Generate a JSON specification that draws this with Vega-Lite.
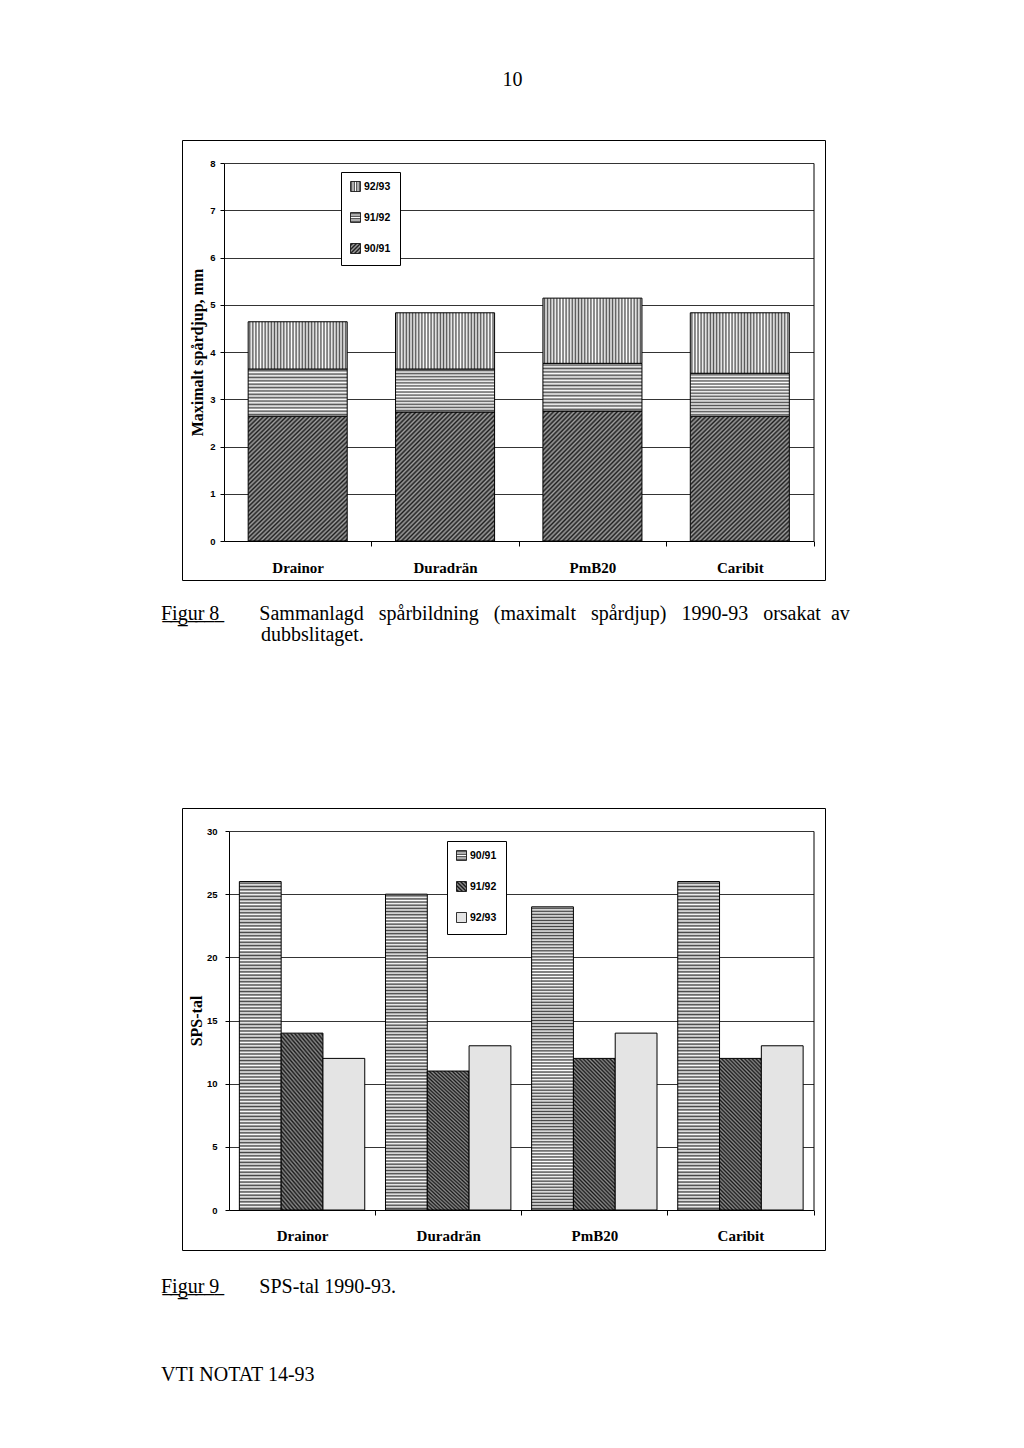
{
  "$schema": "https://vega.github.io/schema/vega-lite/v6.json",
  "background": "white",
  "padding": {"left": 160, "top": 69, "right": 10, "bottom": 10},
  "title": {"text": "10", "anchor": "middle", "frame": "group", "offset": 50, "dx": 9, "fontSize": 20, "font": "Liberation Serif", "fontWeight": "normal", "color": "#000"},
  "spacing": 228,
  "bounds": "flush",
  "resolve": {"scale": {"stroke": "independent"}, "legend": {"stroke": "independent"}},
  "config": {
    "view": {"stroke": "#000", "strokeWidth": 1},
    "axis": {"domainColor": "#000", "tickColor": "#000", "gridColor": "#000", "gridOpacity": 1, "gridWidth": 0.8, "labelColor": "#000", "titleColor": "#000", "domainWidth": 1, "tickWidth": 1, "labelFont": "Liberation Sans", "labelFontWeight": "bold", "labelFontSize": 9.5, "titleFont": "Liberation Serif", "titleFontWeight": "bold", "titleFontSize": 16},
    "title": {"font": "Liberation Serif", "fontWeight": "normal", "fontSize": 20, "color": "#000"}
  },
  "vconcat": [
    {
      "width": 643,
      "height": 440,
      "title": {"text": ["F̲i̲g̲u̲r̲ ̲8̲\u00a0\u00a0\u00a0\u00a0\u00a0\u00a0\u00a0\u00a0Sammanlagd \u00a0\u00a0spårbildning \u00a0\u00a0(maximalt \u00a0\u00a0spårdjup) \u00a0\u00a01990-93 \u00a0\u00a0orsakat \u00a0av", "\u200b\u00a0\u00a0\u00a0\u00a0\u00a0\u00a0\u00a0\u00a0\u00a0\u00a0\u00a0\u00a0\u00a0\u00a0\u00a0\u00a0\u00a0\u00a0\u00a0\u00a0dubbslitaget."], "orient": "bottom", "anchor": "start", "frame": "group", "dx": -21, "offset": 24, "lineHeight": 21},
      "data": {"values": [
        {"belaggning": "Drainor", "sasong": "90/91", "spardjup": 2.64},
        {"belaggning": "Drainor", "sasong": "91/92", "spardjup": 1.00},
        {"belaggning": "Drainor", "sasong": "92/93", "spardjup": 1.00},
        {"belaggning": "Duradrän", "sasong": "90/91", "spardjup": 2.73},
        {"belaggning": "Duradrän", "sasong": "91/92", "spardjup": 0.91},
        {"belaggning": "Duradrän", "sasong": "92/93", "spardjup": 1.19},
        {"belaggning": "PmB20", "sasong": "90/91", "spardjup": 2.75},
        {"belaggning": "PmB20", "sasong": "91/92", "spardjup": 1.01},
        {"belaggning": "PmB20", "sasong": "92/93", "spardjup": 1.38},
        {"belaggning": "Caribit", "sasong": "90/91", "spardjup": 2.64},
        {"belaggning": "Caribit", "sasong": "91/92", "spardjup": 0.91},
        {"belaggning": "Caribit", "sasong": "92/93", "spardjup": 1.28}
      ]},
      "resolve": {"axis": {"y": "independent"}},
      "layer": [
        {
          "mark": {"type": "bar", "strokeWidth": 1},
          "encoding": {
            "x": {"field": "belaggning", "type": "nominal", "sort": ["Drainor", "Duradrän", "PmB20", "Caribit"],
              "scale": {"range": [42, 631.5], "paddingInner": 0.328, "paddingOuter": 0.164},
              "axis": {"title": null, "labelAngle": 0, "labelFont": "Liberation Serif", "labelFontSize": 15, "labelFontWeight": "bold", "offset": -39, "bandPosition": 1, "tickOffset": 24.2, "labelOffset": -24.2, "tickSize": 5, "labelPadding": 14, "grid": false}},
            "y": {"field": "spardjup", "type": "quantitative",
              "scale": {"domain": [0, 8], "nice": false, "zero": true, "range": [401, 23]},
              "axis": {"title": "Maximalt spårdjup, mm", "offset": -42, "values": [0, 1, 2, 3, 4, 5, 6, 7, 8], "tickSize": 4, "labelPadding": 5, "grid": true, "titlePadding": 4}},
            "fill": {"condition": [
              {"test": "datum.sasong === '92/93'", "value": {"gradient": "linear", "x1": 0, "y1": 0, "x2": 1, "y2": 0, "stops": [
                  {"offset": 0, "color": "#fff"}, {"offset": 0.0156, "color": "#555"}, {"offset": 0.0313, "color": "#fff"}, {"offset": 0.0469, "color": "#555"},
                  {"offset": 0.0625, "color": "#fff"}, {"offset": 0.0781, "color": "#555"}, {"offset": 0.0938, "color": "#fff"}, {"offset": 0.1094, "color": "#555"},
                  {"offset": 0.125, "color": "#fff"}, {"offset": 0.1406, "color": "#555"}, {"offset": 0.1563, "color": "#fff"}, {"offset": 0.1719, "color": "#555"},
                  {"offset": 0.1875, "color": "#fff"}, {"offset": 0.2031, "color": "#555"}, {"offset": 0.2188, "color": "#fff"}, {"offset": 0.2344, "color": "#555"},
                  {"offset": 0.25, "color": "#fff"}, {"offset": 0.2656, "color": "#555"}, {"offset": 0.2813, "color": "#fff"}, {"offset": 0.2969, "color": "#555"},
                  {"offset": 0.3125, "color": "#fff"}, {"offset": 0.3281, "color": "#555"}, {"offset": 0.3438, "color": "#fff"}, {"offset": 0.3594, "color": "#555"},
                  {"offset": 0.375, "color": "#fff"}, {"offset": 0.3906, "color": "#555"}, {"offset": 0.4063, "color": "#fff"}, {"offset": 0.4219, "color": "#555"},
                  {"offset": 0.4375, "color": "#fff"}, {"offset": 0.4531, "color": "#555"}, {"offset": 0.4688, "color": "#fff"}, {"offset": 0.4844, "color": "#555"},
                  {"offset": 0.5, "color": "#fff"}, {"offset": 0.5156, "color": "#555"}, {"offset": 0.5313, "color": "#fff"}, {"offset": 0.5469, "color": "#555"},
                  {"offset": 0.5625, "color": "#fff"}, {"offset": 0.5781, "color": "#555"}, {"offset": 0.5938, "color": "#fff"}, {"offset": 0.6094, "color": "#555"},
                  {"offset": 0.625, "color": "#fff"}, {"offset": 0.6406, "color": "#555"}, {"offset": 0.6563, "color": "#fff"}, {"offset": 0.6719, "color": "#555"},
                  {"offset": 0.6875, "color": "#fff"}, {"offset": 0.7031, "color": "#555"}, {"offset": 0.7188, "color": "#fff"}, {"offset": 0.7344, "color": "#555"},
                  {"offset": 0.75, "color": "#fff"}, {"offset": 0.7656, "color": "#555"}, {"offset": 0.7813, "color": "#fff"}, {"offset": 0.7969, "color": "#555"},
                  {"offset": 0.8125, "color": "#fff"}, {"offset": 0.8281, "color": "#555"}, {"offset": 0.8438, "color": "#fff"}, {"offset": 0.8594, "color": "#555"},
                  {"offset": 0.875, "color": "#fff"}, {"offset": 0.8906, "color": "#555"}, {"offset": 0.9063, "color": "#fff"}, {"offset": 0.9219, "color": "#555"},
                  {"offset": 0.9375, "color": "#fff"}, {"offset": 0.9531, "color": "#555"}, {"offset": 0.9688, "color": "#fff"}, {"offset": 0.9844, "color": "#555"},
                  {"offset": 1, "color": "#fff"}
                ]}},
              {"test": "datum.sasong === '91/92'", "value": {"gradient": "linear", "x1": 0, "y1": 0, "x2": 0, "y2": 1, "stops": [
                  {"offset": 0, "color": "#fff"}, {"offset": 0.0357, "color": "#555"}, {"offset": 0.0714, "color": "#fff"}, {"offset": 0.1071, "color": "#555"},
                  {"offset": 0.1429, "color": "#fff"}, {"offset": 0.1786, "color": "#555"}, {"offset": 0.2143, "color": "#fff"}, {"offset": 0.25, "color": "#555"},
                  {"offset": 0.2857, "color": "#fff"}, {"offset": 0.3214, "color": "#555"}, {"offset": 0.3571, "color": "#fff"}, {"offset": 0.3929, "color": "#555"},
                  {"offset": 0.4286, "color": "#fff"}, {"offset": 0.4643, "color": "#555"}, {"offset": 0.5, "color": "#fff"}, {"offset": 0.5357, "color": "#555"},
                  {"offset": 0.5714, "color": "#fff"}, {"offset": 0.6071, "color": "#555"}, {"offset": 0.6429, "color": "#fff"}, {"offset": 0.6786, "color": "#555"},
                  {"offset": 0.7143, "color": "#fff"}, {"offset": 0.75, "color": "#555"}, {"offset": 0.7857, "color": "#fff"}, {"offset": 0.8214, "color": "#555"},
                  {"offset": 0.8571, "color": "#fff"}, {"offset": 0.8929, "color": "#555"}, {"offset": 0.9286, "color": "#fff"}, {"offset": 0.9643, "color": "#555"},
                  {"offset": 1, "color": "#fff"}
                ]}}
            ], "value": {"gradient": "linear", "x1": 0, "y1": 0, "x2": 0.858, "y2": 1.11, "stops": [
                  {"offset":0,"color":"#a0a0a0"},{"offset":0.01,"color":"#1e1e1e"},{"offset":0.02,"color":"#a0a0a0"},{"offset":0.03,"color":"#1e1e1e"},{"offset":0.04,"color":"#a0a0a0"},{"offset":0.05,"color":"#1e1e1e"},{"offset":0.06,"color":"#a0a0a0"},{"offset":0.07,"color":"#1e1e1e"},{"offset":0.08,"color":"#a0a0a0"},{"offset":0.09,"color":"#1e1e1e"},
                  {"offset":0.1,"color":"#a0a0a0"},{"offset":0.11,"color":"#1e1e1e"},{"offset":0.12,"color":"#a0a0a0"},{"offset":0.13,"color":"#1e1e1e"},{"offset":0.14,"color":"#a0a0a0"},{"offset":0.15,"color":"#1e1e1e"},{"offset":0.16,"color":"#a0a0a0"},{"offset":0.17,"color":"#1e1e1e"},{"offset":0.18,"color":"#a0a0a0"},{"offset":0.19,"color":"#1e1e1e"},
                  {"offset":0.2,"color":"#a0a0a0"},{"offset":0.21,"color":"#1e1e1e"},{"offset":0.22,"color":"#a0a0a0"},{"offset":0.23,"color":"#1e1e1e"},{"offset":0.24,"color":"#a0a0a0"},{"offset":0.25,"color":"#1e1e1e"},{"offset":0.26,"color":"#a0a0a0"},{"offset":0.27,"color":"#1e1e1e"},{"offset":0.28,"color":"#a0a0a0"},{"offset":0.29,"color":"#1e1e1e"},
                  {"offset":0.3,"color":"#a0a0a0"},{"offset":0.31,"color":"#1e1e1e"},{"offset":0.32,"color":"#a0a0a0"},{"offset":0.33,"color":"#1e1e1e"},{"offset":0.34,"color":"#a0a0a0"},{"offset":0.35,"color":"#1e1e1e"},{"offset":0.36,"color":"#a0a0a0"},{"offset":0.37,"color":"#1e1e1e"},{"offset":0.38,"color":"#a0a0a0"},{"offset":0.39,"color":"#1e1e1e"},
                  {"offset":0.4,"color":"#a0a0a0"},{"offset":0.41,"color":"#1e1e1e"},{"offset":0.42,"color":"#a0a0a0"},{"offset":0.43,"color":"#1e1e1e"},{"offset":0.44,"color":"#a0a0a0"},{"offset":0.45,"color":"#1e1e1e"},{"offset":0.46,"color":"#a0a0a0"},{"offset":0.47,"color":"#1e1e1e"},{"offset":0.48,"color":"#a0a0a0"},{"offset":0.49,"color":"#1e1e1e"},
                  {"offset":0.5,"color":"#a0a0a0"},{"offset":0.51,"color":"#1e1e1e"},{"offset":0.52,"color":"#a0a0a0"},{"offset":0.53,"color":"#1e1e1e"},{"offset":0.54,"color":"#a0a0a0"},{"offset":0.55,"color":"#1e1e1e"},{"offset":0.56,"color":"#a0a0a0"},{"offset":0.57,"color":"#1e1e1e"},{"offset":0.58,"color":"#a0a0a0"},{"offset":0.59,"color":"#1e1e1e"},
                  {"offset":0.6,"color":"#a0a0a0"},{"offset":0.61,"color":"#1e1e1e"},{"offset":0.62,"color":"#a0a0a0"},{"offset":0.63,"color":"#1e1e1e"},{"offset":0.64,"color":"#a0a0a0"},{"offset":0.65,"color":"#1e1e1e"},{"offset":0.66,"color":"#a0a0a0"},{"offset":0.67,"color":"#1e1e1e"},{"offset":0.68,"color":"#a0a0a0"},{"offset":0.69,"color":"#1e1e1e"},
                  {"offset":0.7,"color":"#a0a0a0"},{"offset":0.71,"color":"#1e1e1e"},{"offset":0.72,"color":"#a0a0a0"},{"offset":0.73,"color":"#1e1e1e"},{"offset":0.74,"color":"#a0a0a0"},{"offset":0.75,"color":"#1e1e1e"},{"offset":0.76,"color":"#a0a0a0"},{"offset":0.77,"color":"#1e1e1e"},{"offset":0.78,"color":"#a0a0a0"},{"offset":0.79,"color":"#1e1e1e"},
                  {"offset":0.8,"color":"#a0a0a0"},{"offset":0.81,"color":"#1e1e1e"},{"offset":0.82,"color":"#a0a0a0"},{"offset":0.83,"color":"#1e1e1e"},{"offset":0.84,"color":"#a0a0a0"},{"offset":0.85,"color":"#1e1e1e"},{"offset":0.86,"color":"#a0a0a0"},{"offset":0.87,"color":"#1e1e1e"},{"offset":0.88,"color":"#a0a0a0"},{"offset":0.89,"color":"#1e1e1e"},
                  {"offset":0.9,"color":"#a0a0a0"},{"offset":0.91,"color":"#1e1e1e"},{"offset":0.92,"color":"#a0a0a0"},{"offset":0.93,"color":"#1e1e1e"},{"offset":0.94,"color":"#a0a0a0"},{"offset":0.95,"color":"#1e1e1e"},{"offset":0.96,"color":"#a0a0a0"},{"offset":0.97,"color":"#1e1e1e"},{"offset":0.98,"color":"#a0a0a0"},{"offset":0.99,"color":"#1e1e1e"},
                  {"offset":1,"color":"#a0a0a0"}
                ]}},
            "stroke": {"field": "sasong", "type": "nominal",
              "scale": {"domain": ["92/93", "91/92", "90/91"], "range": ["#000", "#000", "#000"]},
              "legend": {"title": null, "orient": "none", "legendX": 159, "legendY": 32, "strokeColor": "#000", "fillColor": "#fff", "padding": 9, "rowPadding": 16, "symbolType": "square", "symbolSize": 100, "symbolStrokeColor": "#000", "symbolStrokeWidth": 0.8, "labelFont": "Liberation Sans", "labelFontWeight": "bold", "labelFontSize": 10.5, "labelOffset": 3, "labelColor": "#000",
                "encoding": {"symbols": {"fill": {"condition": [
                  {"test": "datum.value === '92/93'", "value": {"gradient": "linear", "x1": 0, "y1": 0, "x2": 1, "y2": 0, "stops": [
                    {"offset": 0, "color": "#fff"}, {"offset": 0.125, "color": "#333"}, {"offset": 0.25, "color": "#fff"}, {"offset": 0.375, "color": "#333"},
                    {"offset": 0.5, "color": "#fff"}, {"offset": 0.625, "color": "#333"}, {"offset": 0.75, "color": "#fff"}, {"offset": 0.875, "color": "#333"}, {"offset": 1, "color": "#fff"}]}},
                  {"test": "datum.value === '91/92'", "value": {"gradient": "linear", "x1": 0, "y1": 0, "x2": 0, "y2": 1, "stops": [
                    {"offset": 0, "color": "#fff"}, {"offset": 0.125, "color": "#333"}, {"offset": 0.25, "color": "#fff"}, {"offset": 0.375, "color": "#333"},
                    {"offset": 0.5, "color": "#fff"}, {"offset": 0.625, "color": "#333"}, {"offset": 0.75, "color": "#fff"}, {"offset": 0.875, "color": "#333"}, {"offset": 1, "color": "#fff"}]}}
                ], "value": {"gradient": "linear", "x1": 0, "y1": 0, "x2": 1, "y2": 1, "stops": [
                    {"offset": 0, "color": "#999"}, {"offset": 0.1, "color": "#222"}, {"offset": 0.2, "color": "#999"}, {"offset": 0.3, "color": "#222"}, {"offset": 0.4, "color": "#999"}, {"offset": 0.5, "color": "#222"},
                    {"offset": 0.6, "color": "#999"}, {"offset": 0.7, "color": "#222"}, {"offset": 0.8, "color": "#999"}, {"offset": 0.9, "color": "#222"}, {"offset": 1, "color": "#999"}]}}}}}},
            "detail": {"field": "sasong"},
            "order": {"field": "sasong", "sort": "ascending"}
          }
        },
        {
          "mark": {"type": "bar", "opacity": 0},
          "encoding": {
            "x": {"field": "belaggning", "type": "nominal", "sort": ["Drainor", "Duradrän", "PmB20", "Caribit"]},
            "y": {"field": "spardjup", "type": "quantitative", "axis": {"orient": "right", "offset": -11.5, "labels": false, "ticks": false, "grid": false, "title": null}}
          }
        }
      ]
    },
    {
      "width": 643,
      "height": 442,
      "title": {"text": ["F̲i̲g̲u̲r̲ ̲9̲\u00a0\u00a0\u00a0\u00a0\u00a0\u00a0\u00a0\u00a0SPS-tal 1990-93.", "VTI NOTAT 14-93"], "orient": "bottom", "anchor": "start", "frame": "group", "dx": -21, "offset": 27, "lineHeight": 88},
      "data": {"values": [
        {"belaggning": "Drainor", "sasong": "90/91", "sps": 26},
        {"belaggning": "Drainor", "sasong": "91/92", "sps": 14},
        {"belaggning": "Drainor", "sasong": "92/93", "sps": 12},
        {"belaggning": "Duradrän", "sasong": "90/91", "sps": 25},
        {"belaggning": "Duradrän", "sasong": "91/92", "sps": 11},
        {"belaggning": "Duradrän", "sasong": "92/93", "sps": 13},
        {"belaggning": "PmB20", "sasong": "90/91", "sps": 24},
        {"belaggning": "PmB20", "sasong": "91/92", "sps": 12},
        {"belaggning": "PmB20", "sasong": "92/93", "sps": 14},
        {"belaggning": "Caribit", "sasong": "90/91", "sps": 26},
        {"belaggning": "Caribit", "sasong": "91/92", "sps": 12},
        {"belaggning": "Caribit", "sasong": "92/93", "sps": 13}
      ]},
      "resolve": {"axis": {"y": "independent"}},
      "layer": [
        {
          "mark": {"type": "bar", "strokeWidth": 1},
          "encoding": {
            "x": {"field": "belaggning", "type": "nominal", "sort": ["Drainor", "Duradrän", "PmB20", "Caribit"],
              "scale": {"range": [47, 631.5], "paddingInner": 0.142, "paddingOuter": 0.071},
              "axis": {"title": null, "labelAngle": 0, "labelFont": "Liberation Serif", "labelFontSize": 15, "labelFontWeight": "bold", "offset": -40, "bandPosition": 1, "tickOffset": 10.4, "labelOffset": -10.4, "tickSize": 5, "labelPadding": 13, "grid": false}},
            "xOffset": {"field": "sasong", "type": "nominal", "scale": {"paddingInner": 0, "paddingOuter": 0}},
            "y": {"field": "sps", "type": "quantitative", "stack": null,
              "scale": {"domain": [0, 30], "nice": false, "zero": true, "range": [402, 23]},
              "axis": {"title": "SPS-tal", "offset": -47, "values": [0, 5, 10, 15, 20, 25, 30], "tickSize": 4, "labelPadding": 8, "grid": true, "titlePadding": 2}},
            "fill": {"condition": [
              {"test": "datum.sasong === '90/91'", "value": {"gradient": "linear", "x1": 0, "y1": 0, "x2": 0, "y2": 1, "stops": [
                  {"offset":0,"color":"#fff"},{"offset":0.005,"color":"#444"},{"offset":0.01,"color":"#fff"},{"offset":0.015,"color":"#444"},{"offset":0.02,"color":"#fff"},{"offset":0.025,"color":"#444"},{"offset":0.03,"color":"#fff"},{"offset":0.035,"color":"#444"},{"offset":0.04,"color":"#fff"},{"offset":0.045,"color":"#444"},
                  {"offset":0.05,"color":"#fff"},{"offset":0.055,"color":"#444"},{"offset":0.06,"color":"#fff"},{"offset":0.065,"color":"#444"},{"offset":0.07,"color":"#fff"},{"offset":0.075,"color":"#444"},{"offset":0.08,"color":"#fff"},{"offset":0.085,"color":"#444"},{"offset":0.09,"color":"#fff"},{"offset":0.095,"color":"#444"},
                  {"offset":0.1,"color":"#fff"},{"offset":0.105,"color":"#444"},{"offset":0.11,"color":"#fff"},{"offset":0.115,"color":"#444"},{"offset":0.12,"color":"#fff"},{"offset":0.125,"color":"#444"},{"offset":0.13,"color":"#fff"},{"offset":0.135,"color":"#444"},{"offset":0.14,"color":"#fff"},{"offset":0.145,"color":"#444"},
                  {"offset":0.15,"color":"#fff"},{"offset":0.155,"color":"#444"},{"offset":0.16,"color":"#fff"},{"offset":0.165,"color":"#444"},{"offset":0.17,"color":"#fff"},{"offset":0.175,"color":"#444"},{"offset":0.18,"color":"#fff"},{"offset":0.185,"color":"#444"},{"offset":0.19,"color":"#fff"},{"offset":0.195,"color":"#444"},
                  {"offset":0.2,"color":"#fff"},{"offset":0.205,"color":"#444"},{"offset":0.21,"color":"#fff"},{"offset":0.215,"color":"#444"},{"offset":0.22,"color":"#fff"},{"offset":0.225,"color":"#444"},{"offset":0.23,"color":"#fff"},{"offset":0.235,"color":"#444"},{"offset":0.24,"color":"#fff"},{"offset":0.245,"color":"#444"},
                  {"offset":0.25,"color":"#fff"},{"offset":0.255,"color":"#444"},{"offset":0.26,"color":"#fff"},{"offset":0.265,"color":"#444"},{"offset":0.27,"color":"#fff"},{"offset":0.275,"color":"#444"},{"offset":0.28,"color":"#fff"},{"offset":0.285,"color":"#444"},{"offset":0.29,"color":"#fff"},{"offset":0.295,"color":"#444"},
                  {"offset":0.3,"color":"#fff"},{"offset":0.305,"color":"#444"},{"offset":0.31,"color":"#fff"},{"offset":0.315,"color":"#444"},{"offset":0.32,"color":"#fff"},{"offset":0.325,"color":"#444"},{"offset":0.33,"color":"#fff"},{"offset":0.335,"color":"#444"},{"offset":0.34,"color":"#fff"},{"offset":0.345,"color":"#444"},
                  {"offset":0.35,"color":"#fff"},{"offset":0.355,"color":"#444"},{"offset":0.36,"color":"#fff"},{"offset":0.365,"color":"#444"},{"offset":0.37,"color":"#fff"},{"offset":0.375,"color":"#444"},{"offset":0.38,"color":"#fff"},{"offset":0.385,"color":"#444"},{"offset":0.39,"color":"#fff"},{"offset":0.395,"color":"#444"},
                  {"offset":0.4,"color":"#fff"},{"offset":0.405,"color":"#444"},{"offset":0.41,"color":"#fff"},{"offset":0.415,"color":"#444"},{"offset":0.42,"color":"#fff"},{"offset":0.425,"color":"#444"},{"offset":0.43,"color":"#fff"},{"offset":0.435,"color":"#444"},{"offset":0.44,"color":"#fff"},{"offset":0.445,"color":"#444"},
                  {"offset":0.45,"color":"#fff"},{"offset":0.455,"color":"#444"},{"offset":0.46,"color":"#fff"},{"offset":0.465,"color":"#444"},{"offset":0.47,"color":"#fff"},{"offset":0.475,"color":"#444"},{"offset":0.48,"color":"#fff"},{"offset":0.485,"color":"#444"},{"offset":0.49,"color":"#fff"},{"offset":0.495,"color":"#444"},
                  {"offset":0.5,"color":"#fff"},{"offset":0.505,"color":"#444"},{"offset":0.51,"color":"#fff"},{"offset":0.515,"color":"#444"},{"offset":0.52,"color":"#fff"},{"offset":0.525,"color":"#444"},{"offset":0.53,"color":"#fff"},{"offset":0.535,"color":"#444"},{"offset":0.54,"color":"#fff"},{"offset":0.545,"color":"#444"},
                  {"offset":0.55,"color":"#fff"},{"offset":0.555,"color":"#444"},{"offset":0.56,"color":"#fff"},{"offset":0.565,"color":"#444"},{"offset":0.57,"color":"#fff"},{"offset":0.575,"color":"#444"},{"offset":0.58,"color":"#fff"},{"offset":0.585,"color":"#444"},{"offset":0.59,"color":"#fff"},{"offset":0.595,"color":"#444"},
                  {"offset":0.6,"color":"#fff"},{"offset":0.605,"color":"#444"},{"offset":0.61,"color":"#fff"},{"offset":0.615,"color":"#444"},{"offset":0.62,"color":"#fff"},{"offset":0.625,"color":"#444"},{"offset":0.63,"color":"#fff"},{"offset":0.635,"color":"#444"},{"offset":0.64,"color":"#fff"},{"offset":0.645,"color":"#444"},
                  {"offset":0.65,"color":"#fff"},{"offset":0.655,"color":"#444"},{"offset":0.66,"color":"#fff"},{"offset":0.665,"color":"#444"},{"offset":0.67,"color":"#fff"},{"offset":0.675,"color":"#444"},{"offset":0.68,"color":"#fff"},{"offset":0.685,"color":"#444"},{"offset":0.69,"color":"#fff"},{"offset":0.695,"color":"#444"},
                  {"offset":0.7,"color":"#fff"},{"offset":0.705,"color":"#444"},{"offset":0.71,"color":"#fff"},{"offset":0.715,"color":"#444"},{"offset":0.72,"color":"#fff"},{"offset":0.725,"color":"#444"},{"offset":0.73,"color":"#fff"},{"offset":0.735,"color":"#444"},{"offset":0.74,"color":"#fff"},{"offset":0.745,"color":"#444"},
                  {"offset":0.75,"color":"#fff"},{"offset":0.755,"color":"#444"},{"offset":0.76,"color":"#fff"},{"offset":0.765,"color":"#444"},{"offset":0.77,"color":"#fff"},{"offset":0.775,"color":"#444"},{"offset":0.78,"color":"#fff"},{"offset":0.785,"color":"#444"},{"offset":0.79,"color":"#fff"},{"offset":0.795,"color":"#444"},
                  {"offset":0.8,"color":"#fff"},{"offset":0.805,"color":"#444"},{"offset":0.81,"color":"#fff"},{"offset":0.815,"color":"#444"},{"offset":0.82,"color":"#fff"},{"offset":0.825,"color":"#444"},{"offset":0.83,"color":"#fff"},{"offset":0.835,"color":"#444"},{"offset":0.84,"color":"#fff"},{"offset":0.845,"color":"#444"},
                  {"offset":0.85,"color":"#fff"},{"offset":0.855,"color":"#444"},{"offset":0.86,"color":"#fff"},{"offset":0.865,"color":"#444"},{"offset":0.87,"color":"#fff"},{"offset":0.875,"color":"#444"},{"offset":0.88,"color":"#fff"},{"offset":0.885,"color":"#444"},{"offset":0.89,"color":"#fff"},{"offset":0.895,"color":"#444"},
                  {"offset":0.9,"color":"#fff"},{"offset":0.905,"color":"#444"},{"offset":0.91,"color":"#fff"},{"offset":0.915,"color":"#444"},{"offset":0.92,"color":"#fff"},{"offset":0.925,"color":"#444"},{"offset":0.93,"color":"#fff"},{"offset":0.935,"color":"#444"},{"offset":0.94,"color":"#fff"},{"offset":0.945,"color":"#444"},
                  {"offset":0.95,"color":"#fff"},{"offset":0.955,"color":"#444"},{"offset":0.96,"color":"#fff"},{"offset":0.965,"color":"#444"},{"offset":0.97,"color":"#fff"},{"offset":0.975,"color":"#444"},{"offset":0.98,"color":"#fff"},{"offset":0.985,"color":"#444"},{"offset":0.99,"color":"#fff"},{"offset":0.995,"color":"#444"},
                  {"offset":1,"color":"#fff"}
                ]}},
              {"test": "datum.sasong === '91/92'", "value": {"gradient": "linear", "x1": 0, "y1": 1, "x2": 0.332, "y2": -0.187, "stops": [
                  {"offset":0,"color":"#8a8a8a"},{"offset":0.01,"color":"#1a1a1a"},{"offset":0.02,"color":"#8a8a8a"},{"offset":0.03,"color":"#1a1a1a"},{"offset":0.04,"color":"#8a8a8a"},{"offset":0.05,"color":"#1a1a1a"},{"offset":0.06,"color":"#8a8a8a"},{"offset":0.07,"color":"#1a1a1a"},{"offset":0.08,"color":"#8a8a8a"},{"offset":0.09,"color":"#1a1a1a"},
                  {"offset":0.1,"color":"#8a8a8a"},{"offset":0.11,"color":"#1a1a1a"},{"offset":0.12,"color":"#8a8a8a"},{"offset":0.13,"color":"#1a1a1a"},{"offset":0.14,"color":"#8a8a8a"},{"offset":0.15,"color":"#1a1a1a"},{"offset":0.16,"color":"#8a8a8a"},{"offset":0.17,"color":"#1a1a1a"},{"offset":0.18,"color":"#8a8a8a"},{"offset":0.19,"color":"#1a1a1a"},
                  {"offset":0.2,"color":"#8a8a8a"},{"offset":0.21,"color":"#1a1a1a"},{"offset":0.22,"color":"#8a8a8a"},{"offset":0.23,"color":"#1a1a1a"},{"offset":0.24,"color":"#8a8a8a"},{"offset":0.25,"color":"#1a1a1a"},{"offset":0.26,"color":"#8a8a8a"},{"offset":0.27,"color":"#1a1a1a"},{"offset":0.28,"color":"#8a8a8a"},{"offset":0.29,"color":"#1a1a1a"},
                  {"offset":0.3,"color":"#8a8a8a"},{"offset":0.31,"color":"#1a1a1a"},{"offset":0.32,"color":"#8a8a8a"},{"offset":0.33,"color":"#1a1a1a"},{"offset":0.34,"color":"#8a8a8a"},{"offset":0.35,"color":"#1a1a1a"},{"offset":0.36,"color":"#8a8a8a"},{"offset":0.37,"color":"#1a1a1a"},{"offset":0.38,"color":"#8a8a8a"},{"offset":0.39,"color":"#1a1a1a"},
                  {"offset":0.4,"color":"#8a8a8a"},{"offset":0.41,"color":"#1a1a1a"},{"offset":0.42,"color":"#8a8a8a"},{"offset":0.43,"color":"#1a1a1a"},{"offset":0.44,"color":"#8a8a8a"},{"offset":0.45,"color":"#1a1a1a"},{"offset":0.46,"color":"#8a8a8a"},{"offset":0.47,"color":"#1a1a1a"},{"offset":0.48,"color":"#8a8a8a"},{"offset":0.49,"color":"#1a1a1a"},
                  {"offset":0.5,"color":"#8a8a8a"},{"offset":0.51,"color":"#1a1a1a"},{"offset":0.52,"color":"#8a8a8a"},{"offset":0.53,"color":"#1a1a1a"},{"offset":0.54,"color":"#8a8a8a"},{"offset":0.55,"color":"#1a1a1a"},{"offset":0.56,"color":"#8a8a8a"},{"offset":0.57,"color":"#1a1a1a"},{"offset":0.58,"color":"#8a8a8a"},{"offset":0.59,"color":"#1a1a1a"},
                  {"offset":0.6,"color":"#8a8a8a"},{"offset":0.61,"color":"#1a1a1a"},{"offset":0.62,"color":"#8a8a8a"},{"offset":0.63,"color":"#1a1a1a"},{"offset":0.64,"color":"#8a8a8a"},{"offset":0.65,"color":"#1a1a1a"},{"offset":0.66,"color":"#8a8a8a"},{"offset":0.67,"color":"#1a1a1a"},{"offset":0.68,"color":"#8a8a8a"},{"offset":0.69,"color":"#1a1a1a"},
                  {"offset":0.7,"color":"#8a8a8a"},{"offset":0.71,"color":"#1a1a1a"},{"offset":0.72,"color":"#8a8a8a"},{"offset":0.73,"color":"#1a1a1a"},{"offset":0.74,"color":"#8a8a8a"},{"offset":0.75,"color":"#1a1a1a"},{"offset":0.76,"color":"#8a8a8a"},{"offset":0.77,"color":"#1a1a1a"},{"offset":0.78,"color":"#8a8a8a"},{"offset":0.79,"color":"#1a1a1a"},
                  {"offset":0.8,"color":"#8a8a8a"},{"offset":0.81,"color":"#1a1a1a"},{"offset":0.82,"color":"#8a8a8a"},{"offset":0.83,"color":"#1a1a1a"},{"offset":0.84,"color":"#8a8a8a"},{"offset":0.85,"color":"#1a1a1a"},{"offset":0.86,"color":"#8a8a8a"},{"offset":0.87,"color":"#1a1a1a"},{"offset":0.88,"color":"#8a8a8a"},{"offset":0.89,"color":"#1a1a1a"},
                  {"offset":0.9,"color":"#8a8a8a"},{"offset":0.91,"color":"#1a1a1a"},{"offset":0.92,"color":"#8a8a8a"},{"offset":0.93,"color":"#1a1a1a"},{"offset":0.94,"color":"#8a8a8a"},{"offset":0.95,"color":"#1a1a1a"},{"offset":0.96,"color":"#8a8a8a"},{"offset":0.97,"color":"#1a1a1a"},{"offset":0.98,"color":"#8a8a8a"},{"offset":0.99,"color":"#1a1a1a"},
                  {"offset":1,"color":"#8a8a8a"}
                ]}}
            ], "value": "#e4e4e4"},
            "stroke": {"field": "sasong", "type": "nominal",
              "scale": {"domain": ["90/91", "91/92", "92/93"], "range": ["#000", "#000", "#000"]},
              "legend": {"title": null, "orient": "none", "legendX": 265, "legendY": 33, "strokeColor": "#000", "fillColor": "#fff", "padding": 9, "rowPadding": 16, "symbolType": "square", "symbolSize": 100, "symbolStrokeColor": "#000", "symbolStrokeWidth": 0.8, "labelFont": "Liberation Sans", "labelFontWeight": "bold", "labelFontSize": 10.5, "labelOffset": 3, "labelColor": "#000",
                "encoding": {"symbols": {"fill": {"condition": [
                  {"test": "datum.value === '90/91'", "value": {"gradient": "linear", "x1": 0, "y1": 0, "x2": 0, "y2": 1, "stops": [
                    {"offset": 0, "color": "#fff"}, {"offset": 0.125, "color": "#333"}, {"offset": 0.25, "color": "#fff"}, {"offset": 0.375, "color": "#333"},
                    {"offset": 0.5, "color": "#fff"}, {"offset": 0.625, "color": "#333"}, {"offset": 0.75, "color": "#fff"}, {"offset": 0.875, "color": "#333"}, {"offset": 1, "color": "#fff"}]}},
                  {"test": "datum.value === '91/92'", "value": {"gradient": "linear", "x1": 1, "y1": 0, "x2": 0, "y2": 1, "stops": [
                    {"offset": 0, "color": "#888"}, {"offset": 0.1, "color": "#1a1a1a"}, {"offset": 0.2, "color": "#888"}, {"offset": 0.3, "color": "#1a1a1a"}, {"offset": 0.4, "color": "#888"}, {"offset": 0.5, "color": "#1a1a1a"},
                    {"offset": 0.6, "color": "#888"}, {"offset": 0.7, "color": "#1a1a1a"}, {"offset": 0.8, "color": "#888"}, {"offset": 0.9, "color": "#1a1a1a"}, {"offset": 1, "color": "#888"}]}}
                ], "value": "#e4e4e4"}}}}},
            "detail": {"field": "sasong"}
          }
        },
        {
          "mark": {"type": "bar", "opacity": 0},
          "encoding": {
            "x": {"field": "belaggning", "type": "nominal", "sort": ["Drainor", "Duradrän", "PmB20", "Caribit"]},
            "xOffset": {"field": "sasong", "type": "nominal"},
            "y": {"field": "sps", "type": "quantitative", "stack": null, "axis": {"orient": "right", "offset": -11.5, "labels": false, "ticks": false, "grid": false, "title": null}}
          }
        }
      ]
    }
  ]
}
